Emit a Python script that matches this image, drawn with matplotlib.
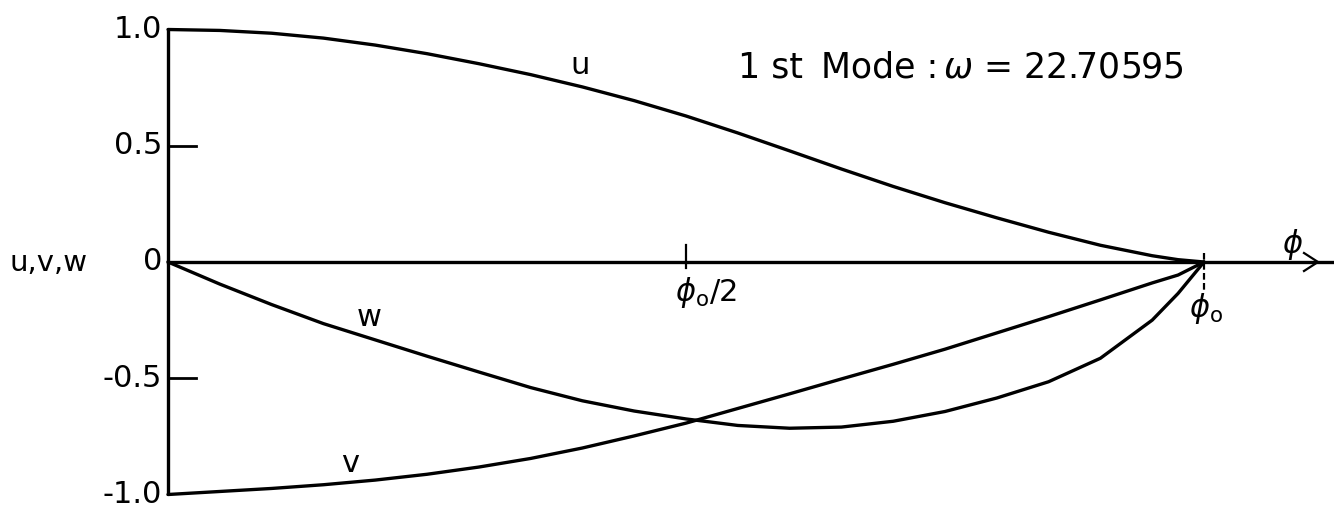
import matplotlib
matplotlib.use("Agg")
import matplotlib.pyplot as plt

# Mode shape of the 1st mode along the arc, phi given as a fraction of phi_o
phi = [0.0, 0.05, 0.10, 0.15, 0.20, 0.25, 0.30, 0.35, 0.40, 0.45, 0.50,
       0.55, 0.60, 0.65, 0.70, 0.75, 0.80, 0.85, 0.90, 0.95, 0.975, 1.0]
u_vals = [1.0, 0.996, 0.984, 0.963, 0.933, 0.896, 0.853, 0.806, 0.753, 0.694, 0.628,
          0.555, 0.478, 0.400, 0.325, 0.255, 0.190, 0.128, 0.072, 0.027, 0.010, 0.0]
v_vals = [-1.0, -0.987, -0.974, -0.958, -0.938, -0.913, -0.882, -0.845, -0.800, -0.748, -0.693,
          -0.630, -0.567, -0.503, -0.440, -0.375, -0.305, -0.235, -0.163, -0.090, -0.056, 0.0]
w_vals = [0.0, -0.095, -0.183, -0.265, -0.335, -0.405, -0.473, -0.540, -0.597, -0.641, -0.675,
          -0.703, -0.715, -0.710, -0.685, -0.643, -0.585, -0.515, -0.414, -0.250, -0.135, 0.0]

y_ticks = [1.0, 0.5, 0.0, -0.5, -1.0]
y_tick_labels = ["1.0", "0.5", "0", "-0.5", "-1.0"]

W, H = 1334, 512
X0, XS = 168, 1036      # pixel of phi = 0 and pixels per phi_o
Y0, YS = 262, 232.5     # pixel of zero displacement and pixels per unit

plt.rcParams["mathtext.fontset"] = "dejavusans"
plt.rcParams["font.family"] = "DejaVu Sans"

fig = plt.figure(figsize=(W / 100, H / 100), dpi=100)
ax = fig.add_axes([0, 0, 1, 1])
ax.set_xlim(-X0 / XS, (W - X0) / XS)
ax.set_ylim(-(H - Y0) / YS, Y0 / YS)
ax.axis("off")


def fx(px):
    return px / W


def fy(py):
    return 1 - py / H


lw = 2.4
ink = "black"

# axes
ax.plot([0, 0], [-1.0, 1.0], color=ink, lw=lw, solid_capstyle="butt")
ax.plot([0, (W - X0) / XS], [0, 0], color=ink, lw=lw)
# arrow head on the phi axis
xa, xb = (1304 - X0) / XS, (1318 - X0) / XS
dy = 9 / YS
ax.plot([xa, xb, xa], [dy, 0, -dy], color=ink, lw=1.6)

# y ticks at +-0.5
for t in (0.5, -0.5):
    ax.plot([0, 28 / XS], [t, t], color=ink, lw=2.0)

# phi ticks
ax.plot([0.5, 0.5], [(Y0 - 245) / YS, (Y0 - 268) / YS], color=ink, lw=1.6)
ax.plot([1.0, 1.0], [(Y0 - 253) / YS, (Y0 - 292) / YS], color=ink, lw=1.6,
        linestyle=(0, (3, 1.5)))

# curves
for vals in (u_vals, v_vals, w_vals):
    ax.plot(phi, vals, color=ink, lw=lw, solid_joinstyle="round",
            solid_capstyle="round")

# y tick labels
for t, lab in zip(y_ticks, y_tick_labels):
    ax.text(-6 / XS, t, lab, ha="right", va="center", fontsize=22, color=ink)

fig.text(fx(10), fy(263), "u,v,w", ha="left", va="center", fontsize=21, color=ink)

# curve labels
fig.text(fx(580), fy(66), "u", ha="center", va="center", fontsize=22, color=ink)
fig.text(fx(369), fy(318), "w", ha="center", va="center", fontsize=22, color=ink)
fig.text(fx(350), fy(463), "v", ha="center", va="center", fontsize=22, color=ink)

# title
fig.text(fx(738), fy(67), "1 st", ha="left", va="center", fontsize=25, color=ink)
fig.text(fx(821), fy(67), "Mode :", ha="left", va="center", fontsize=25, color=ink)
fig.text(fx(943), fy(67), r"$\omega$ = 22.70595", ha="left", va="center",
         fontsize=25, color=ink)

# phi labels
fig.text(fx(675), fy(292), r"$\phi_{\mathrm{o}}/2$", ha="left", va="center",
         fontsize=22, color=ink)
fig.text(fx(1189), fy(309), r"$\phi_{\mathrm{o}}$", ha="left", va="center",
         fontsize=22, color=ink)
fig.text(fx(1293), fy(244), r"$\phi$", ha="center", va="center",
         fontsize=22, color=ink)

fig.savefig("out.png", dpi=100, facecolor="white")
